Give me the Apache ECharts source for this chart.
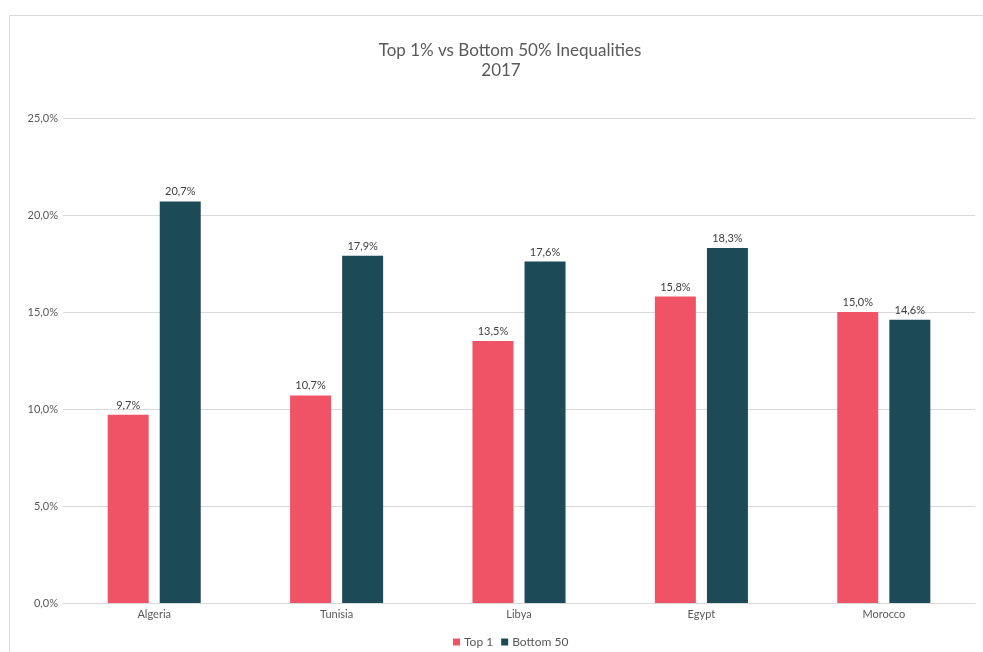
<!DOCTYPE html>
<html>
<head>
<meta charset="utf-8">
<script src="https://cdn.jsdelivr.net/npm/echarts@6/dist/echarts.min.js"></script>
<style>
  html, body { margin: 0; padding: 0; background: #ffffff; }
  #chart { width: 983px; height: 652px; }
</style>
</head>
<body>
<div id="chart"></div>
<script>
// Income shares, 2017 (percent)
const countries = ['Algeria', 'Tunisia', 'Libya', 'Egypt', 'Morocco'];
const top1 = [9.7, 10.7, 13.5, 15.8, 15.0];
const bottom50 = [20.7, 17.9, 17.6, 18.3, 14.6];
const seriesNames = ['Top 1', 'Bottom 50'];

const pct = v => v.toFixed(1).replace('.', ',') + '%';
const textColor = '#595959';
const gridColor = '#d9d9d9';
const font = 'Lato, "Open Sans", sans-serif';

const chart = echarts.init(document.getElementById('chart'), null, { renderer: 'canvas' });

const titleStyle = {
  fontFamily: font,
  fontSize: 17,
  fontWeight: 'normal',
  color: textColor
};

chart.setOption({
  backgroundColor: '#ffffff',
  animation: false,
  graphic: [{
    type: 'rect',
    shape: { x: 9.5, y: 15.5, width: 1000, height: 700 },
    style: { fill: 'none', stroke: gridColor, lineWidth: 1 },
    z: -1
  }],
  title: [
    { text: 'Top 1% vs Bottom 50% Inequalities', left: 505, textAlign: 'center', top: 37, textStyle: titleStyle },
    { text: '2017', left: 496, textAlign: 'center', top: 57, textStyle: titleStyle }
  ],
  legend: {
    data: seriesNames,
    top: 631,
    left: 448,
    icon: 'rect',
    itemWidth: 7,
    itemHeight: 7,
    itemGap: 8,
    textStyle: { fontFamily: font, fontSize: 12, color: textColor, padding: [0, 0, 0, -1] }
  },
  grid: { left: 63, right: 8, top: 118, bottom: 49, containLabel: false },
  xAxis: {
    type: 'category',
    data: countries,
    axisLine: { lineStyle: { color: gridColor } },
    axisTick: { show: false },
    axisLabel: { fontFamily: font, fontSize: 11, color: textColor, margin: 6 }
  },
  yAxis: {
    type: 'value',
    min: 0,
    max: 25,
    interval: 5,
    axisLine: { show: false },
    axisTick: { show: false },
    axisLabel: { fontFamily: font, fontSize: 11, color: textColor, margin: 5, formatter: v => pct(v) },
    splitLine: { lineStyle: { color: gridColor } }
  },
  series: [
    {
      name: seriesNames[0],
      type: 'bar',
      data: top1,
      barWidth: 41,
      barGap: '27%',
      itemStyle: { color: '#F05366' },
      label: {
        show: true, position: 'top', distance: 4,
        fontFamily: font, fontSize: 11, color: '#404040',
        formatter: p => pct(p.value)
      }
    },
    {
      name: seriesNames[1],
      type: 'bar',
      data: bottom50,
      barWidth: 41,
      itemStyle: { color: '#1D4A57' },
      label: {
        show: true, position: 'top', distance: 4,
        fontFamily: font, fontSize: 11, color: '#404040',
        formatter: p => pct(p.value)
      }
    }
  ]
});
</script>
</body>
</html>
